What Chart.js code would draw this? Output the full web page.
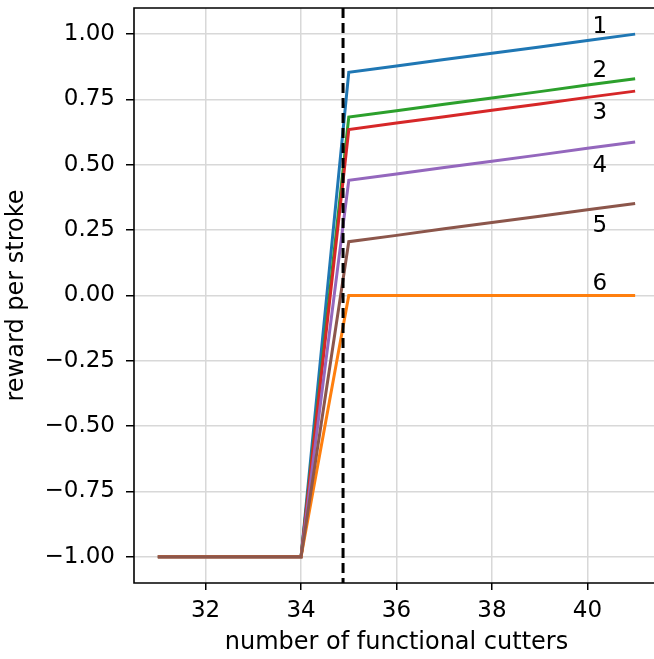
<!DOCTYPE html>
<html>
<head>
<meta charset="utf-8">
<script src="https://cdn.jsdelivr.net/npm/chart.js@4.4.1/dist/chart.umd.min.js"></script>
<style>
  html, body { margin: 0; padding: 0; background: #fff; overflow: hidden; }
  #wrap { width: 654px; height: 659px; overflow: hidden; }
</style>
</head>
<body>
<div id="wrap"><canvas id="chart" width="662" height="659"></canvas></div>
<script>
// data
var cutters = [31, 32, 33, 34, 35, 36, 37, 38, 39, 40, 41];
var reward1 = [-1, -1, -1, -1, 0.854, 0.878, 0.903, 0.927, 0.951, 0.976, 1.000];
var reward2 = [-1, -1, -1, -1, 0.683, 0.707, 0.732, 0.756, 0.780, 0.805, 0.829];
var reward3 = [-1, -1, -1, -1, 0.635, 0.660, 0.684, 0.709, 0.733, 0.758, 0.782];
var reward4 = [-1, -1, -1, -1, 0.441, 0.465, 0.490, 0.514, 0.538, 0.563, 0.587];
var reward5 = [-1, -1, -1, -1, 0.206, 0.230, 0.255, 0.279, 0.303, 0.328, 0.352];
var reward6 = [-1, -1, -1, -1, 0, 0, 0, 0, 0, 0, 0];
var seriesNames = ["1", "2", "3", "4", "5", "6"];
var labelX = 40.26;
var labelY = [1.028, 0.857, 0.697, 0.497, 0.265, 0.045];
var xTicks = [32, 34, 36, 38, 40];
var yTicks = [-1, -0.75, -0.5, -0.25, 0, 0.25, 0.5, 0.75, 1];
var threshold = 34.88;

var colors = ["#1f77b4", "#2ca02c", "#d62728", "#9467bd", "#8c564b", "#ff7f0e"];
var drawOrder = [6, 5, 4, 3, 1, 2]; // lower = on top

function toPoints(vals) {
  return cutters.map(function(c, i){ return {x: c, y: vals[i]}; });
}

var allSeries = [reward1, reward2, reward3, reward4, reward5, reward6];
var datasets = allSeries.map(function(vals, i){
  return {
    label: seriesNames[i],
    data: toPoints(vals),
    borderColor: colors[i],
    backgroundColor: colors[i],
    borderWidth: 3,
    pointRadius: 0,
    tension: 0,
    fill: false,
    order: drawOrder[i]
  };
});

var extras = {
  id: "extras",
  afterDatasetsDraw: function(chart){
    var ctx = chart.ctx, a = chart.chartArea;
    var xs = chart.scales.x, ys = chart.scales.y;
    ctx.save();
    // dashed threshold
    ctx.strokeStyle = "#000";
    ctx.lineWidth = 3;
    ctx.setLineDash([10, 5]);
    var tx = xs.getPixelForValue(threshold);
    ctx.beginPath();
    ctx.moveTo(tx, a.top);
    ctx.lineTo(tx, a.bottom);
    ctx.stroke();
    ctx.setLineDash([]);
    // frame (right side falls outside the picture)
    ctx.lineWidth = 1.6;
    ctx.beginPath();
    ctx.moveTo(a.right + 5, a.bottom);
    ctx.lineTo(a.left, a.bottom);
    ctx.lineTo(a.left, a.top);
    ctx.lineTo(a.right + 5, a.top);
    ctx.stroke();
    // series numbers
    ctx.fillStyle = "#000";
    ctx.font = "23px 'DejaVu Sans'";
    ctx.textAlign = "center";
    ctx.textBaseline = "middle";
    seriesNames.forEach(function(n, i){
      ctx.fillText(n, xs.getPixelForValue(labelX), ys.getPixelForValue(labelY[i]));
    });
    ctx.restore();
  }
};

var ctx = document.getElementById("chart").getContext("2d");
window.lines = new Chart(ctx, {
  type: "line",
  data: { datasets: datasets },
  options: {
    responsive: false,
    animation: false,
    devicePixelRatio: 1,
    layout: { padding: { top: 8, right: 3, left: 0, bottom: 0 } },
    plugins: { legend: { display: false }, tooltip: { enabled: false } },
    scales: {
      x: {
        type: "linear",
        min: 30.5,
        max: 41.5,
        afterBuildTicks: function(s){ s.ticks = xTicks.map(function(v){ return {value: v}; }); },
        afterFit: function(s){ s.height = 76; s.paddingLeft = 0; s.paddingRight = 0; },
        grid: { color: "#d8d8d8", lineWidth: 1.5, tickColor: "#000", tickLength: 7 },
        border: { display: false },
        ticks: { color: "#000", font: { family: "DejaVu Sans", size: 23 }, padding: 7, maxRotation: 0 },
        title: { display: true, text: "number of functional cutters", color: "#000",
                 font: { family: "DejaVu Sans", size: 24 }, padding: { top: 0, bottom: 2 } }
      },
      y: {
        type: "linear",
        min: -1.1,
        max: 1.1,
        afterBuildTicks: function(s){ s.ticks = yTicks.map(function(v){ return {value: v}; }); },
        afterFit: function(s){ s.width = 134; s.paddingTop = 0; s.paddingBottom = 0; },
        grid: { color: "#d8d8d8", lineWidth: 1.5, tickColor: "#000", tickLength: 8 },
        border: { display: false },
        ticks: {
          color: "#000", font: { family: "DejaVu Sans", size: 23 }, padding: 11,
          callback: function(v){ return (v < 0 ? "\u2212" : "") + Math.abs(v).toFixed(2); }
        },
        title: { display: true, text: "reward per stroke", color: "#000",
                 font: { family: "DejaVu Sans", size: 24 }, padding: { top: 2, bottom: 2 } }
      }
    }
  },
  plugins: [extras]
});
</script>
</body>
</html>
